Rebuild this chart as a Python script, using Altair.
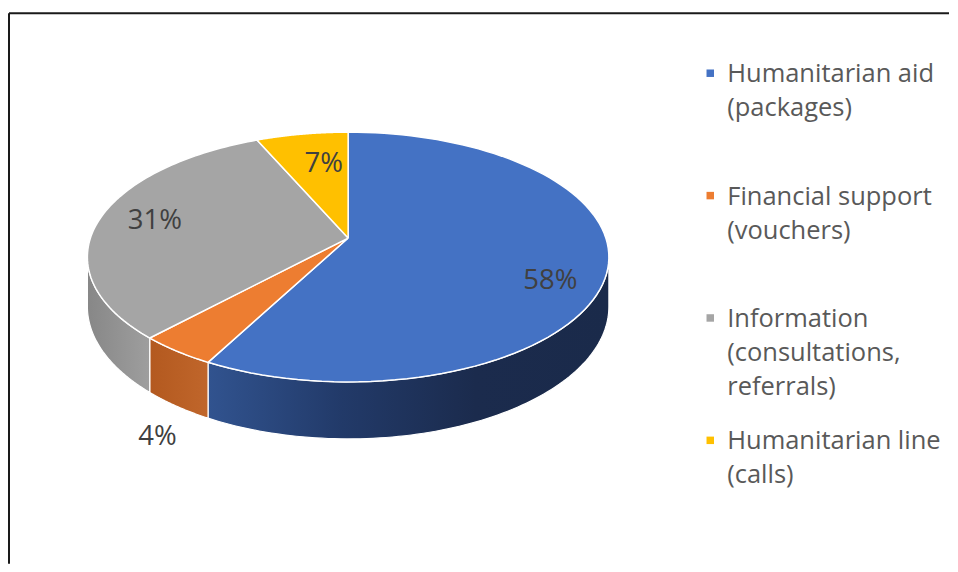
import math
import altair as alt
import pandas as pd

# ---- data ----
categories = [
    "Humanitarian aid (packages)",
    "Financial support (vouchers)",
    "Information (consultations, referrals)",
    "Humanitarian line (calls)",
]
values = [57.8, 4.2, 31.4, 6.6]
legend_lines = [
    ["Humanitarian aid", "(packages)"],
    ["Financial support", "(vouchers)"],
    ["Information", "(consultations,", "referrals)"],
    ["Humanitarian line", "(calls)"],
]

# ---- style ----
colors = ["#4472C4", "#ED7D31", "#A5A5A5", "#FFC000"]
side_gradients = [
    ["#31538f", "#223a69", "#1b2b4d", "#1a2a4a"],
    ["#b3591f", "#c0662b"],
    ["#878787", "#9e9e9e"],
    ["#bf9000", "#d9a400"],
]
label_r = [0.816, 1.154, 0.779, 0.675]      # radial placement of the % labels
label_da = [10.1, -2.5, 0.8, 3.0]           # angular nudge (degrees)
FONT = "Open Sans"
CX, CY, RX, RY, P, D0, N = 348.5, 238.0, 258.0, 122.1, 0.152, 48.4, 90
ALO = math.pi / 2 + math.asin(P)
AHI = 2 * math.pi - ALO

df = pd.DataFrame({
    "idx": range(len(categories)), "cat": categories, "value": values,
    "lr": label_r, "lda": label_da,
})
leg = pd.DataFrame({"idx": range(len(categories)), "cat": categories, "lines": legend_lines})

xs = alt.Scale(domain=[8, 950], nice=False, zero=False)
ys = alt.Scale(domain=[8, 564], nice=False, zero=False, reverse=True)
cs = alt.Scale(domain=categories, range=colors)
X = lambda f: alt.X(f, type="quantitative", scale=xs, axis=None)
Y = lambda f: alt.Y(f, type="quantitative", scale=ys, axis=None)


def slices():
    return (
        alt.Chart(df)
        .transform_joinaggregate(total="sum(value)")
        .transform_window(cum="sum(value)", sort=[alt.SortField("idx")], frame=[None, 0])
        .transform_calculate(
            a0="2*PI*(datum.cum - datum.value)/datum.total",
            a1="2*PI*datum.cum/datum.total",
        )
    )


def proj_x(a, r="1"):
    return f"{CX} + {RX}*({r})*sin({a})/(1 + {P}*({r})*cos({a}))"


def proj_y(a, r="1"):
    return f"{CY} - {RY}*({r})*cos({a})/(1 + {P}*({r})*cos({a}))"


# side walls (one layer per slice for its shading gradient)
side_layers = []
for k, stops in enumerate(side_gradients):
    n = len(stops)
    grad = alt.LinearGradient(
        gradient="linear", x1=0, y1=0, x2=1, y2=0,
        stops=[alt.GradientStop(offset=j / (n - 1), color=c) for j, c in enumerate(stops)],
    )
    layer = (
        slices()
        .transform_filter(f"datum.idx == {k}")
        .transform_calculate(s0=f"max(datum.a0, {ALO})", s1=f"min(datum.a1, {AHI})")
        .transform_filter("datum.s1 > datum.s0")
        .transform_calculate(pts=f"sequence(0, {2 * N + 3})")
        .transform_flatten(["pts"], as_=["i"])
        .transform_calculate(
            kk=f"datum.i <= {N} ? datum.i : (datum.i <= {2 * N + 1} ? {2 * N + 1} - datum.i : 0)",
            bot=f"datum.i > {N} && datum.i <= {2 * N + 1} ? 1 : 0",
        )
        .transform_calculate(ang=f"datum.s0 + (datum.s1 - datum.s0)*datum.kk/{N}")
        .transform_calculate(
            px=proj_x("datum.ang"),
            py=proj_y("datum.ang") + f" + datum.bot*{D0}/(1 + {P}*cos(datum.ang))",
        )
        .mark_line(fill=grad, stroke="white", strokeWidth=1.2, strokeJoin="round")
        .encode(x=X("px"), y=Y("py"), order=alt.Order("i:Q"), detail="cat:N")
    )
    side_layers.append(layer)

# top faces
top = (
    slices()
    .transform_calculate(pts=f"sequence(0, {N + 3})")
    .transform_flatten(["pts"], as_=["i"])
    .transform_calculate(
        isc=f"datum.i == 0 || datum.i == {N + 2} ? 1 : 0",
        ang=f"datum.a0 + (datum.a1 - datum.a0)*(datum.i - 1)/{N}",
    )
    .transform_calculate(
        px=f"datum.isc ? {CX} : " + proj_x("datum.ang"),
        py=f"datum.isc ? {CY} : " + proj_y("datum.ang"),
    )
    .mark_line(stroke="white", strokeWidth=1.5, strokeJoin="round")
    .encode(
        x=X("px"), y=Y("py"), order=alt.Order("i:Q"), detail="cat:N",
        fill=alt.Fill("cat:N", scale=cs, legend=None),
    )
)

# percentage labels
labels = (
    slices()
    .transform_calculate(
        mid="(datum.a0 + datum.a1)/2 + datum.lda*PI/180",
        share="datum.value/datum.total",
    )
    .transform_calculate(
        lx=proj_x("datum.mid", "datum.lr"),
        ly=proj_y("datum.mid", "datum.lr") + f" + (datum.lr > 1 ? {D0}*1.25 : 0)",
        txt="format(datum.share, '.0%')",
    )
    .mark_text(font=FONT, fontSize=27.5, color="#404040", baseline="middle", align="center")
    .encode(x=X("lx"), y=Y("ly"), text="txt:N")
)

# legend
leg_base = alt.Chart(leg).transform_calculate(
    mx="711", tx="728", cy="73 + 122.5*datum.idx", by="73 + 122.5*datum.idx + 9"
)
leg_marks = leg_base.mark_square(size=56, opacity=1).encode(
    x=X("mx"), y=Y("cy"), fill=alt.Fill("cat:N", scale=cs, legend=None)
)
leg_text = leg_base.mark_text(
    font=FONT, fontSize=25.5, color="#595959", align="left", baseline="alphabetic", lineHeight=34
).encode(x=X("tx"), y=Y("by"), text="lines")

# chart frame (top and left edges visible)
one = alt.Data(values=[{"a": 1}])
frame_top = alt.Chart(one).mark_rule(color="#1a1a1a", strokeWidth=2).encode(
    x=alt.value(1), x2=alt.value(942), y=alt.value(5)
)
frame_left = alt.Chart(one).mark_rule(color="#1a1a1a", strokeWidth=2).encode(
    x=alt.value(1), y=alt.value(5), y2=alt.value(556)
)

chart = (
    alt.layer(*side_layers, top, labels, leg_marks, leg_text, frame_top, frame_left)
    .properties(width=942, height=556, padding=0)
    .configure_view(stroke=None)
)

chart.save("out.html", embed_options={"renderer": "svg", "actions": False})
